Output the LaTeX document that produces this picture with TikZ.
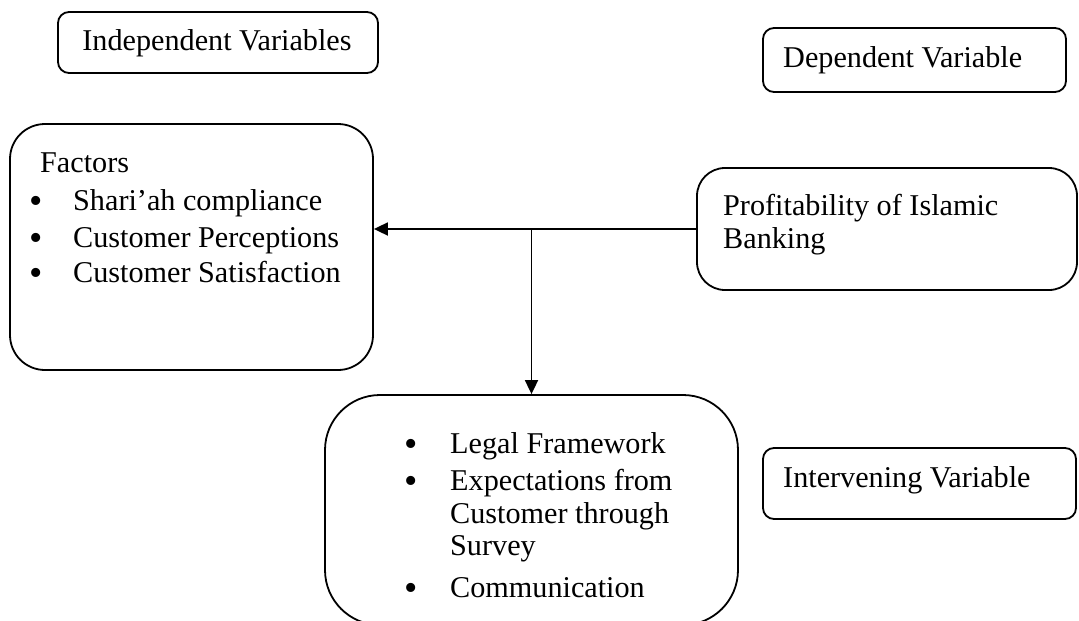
\documentclass[tikz,border=0pt]{standalone}
\usepackage{fontspec}
\setmainfont{Liberation Serif}
\usetikzlibrary{arrows.meta}
\begin{document}
\begin{tikzpicture}[x=1pt,y=-1pt,
  box/.style={draw, line width=1.8pt, inner sep=0pt, rounded corners=#1},
  txt/.style={anchor=base west, inner sep=0pt, font=\fontsize{30.2}{33}\selectfont},
  bul/.style={anchor=base, inner sep=0pt, font=\fontsize{38}{38}\selectfont},
  conn/.style={line width=1.8pt},
  tip/.style={-{Triangle[length=14pt,width=13pt]}}]
\useasboundingbox (0,0) rectangle (1079,621);
\clip (0,0) rectangle (1079,621);
% label boxes
\node[box=11pt, minimum width=320pt, minimum height=61pt] (indep) at (218,42.5) {};
\node[txt, anchor=base] (indept) at (217,50) {Independent Variables};
\node[box=11pt, minimum width=303pt, minimum height=64pt] (dep) at (914.5,60) {};
\node[txt] (dept) at (783,67) {Dependent Variable};
\node[box=11pt, minimum width=313pt, minimum height=71pt] (interv) at (919.5,483.5) {};
\node[txt] (intervt) at (783,487) {Intervening Variable};
% main boxes
\node[box=35pt, minimum width=363pt, minimum height=246pt] (factors) at (191.5,247) {};
\node[txt] (f0) at (40,172) {Factors};
\node[bul] (fb1) at (36,213) {\textbullet};
\node[txt] (f1) at (73,210) {Shari’ah compliance};
\node[bul] (fb2) at (36,250) {\textbullet};
\node[txt] (f2) at (73,247) {Customer Perceptions};
\node[bul] (fb3) at (36,285) {\textbullet};
\node[txt] (f3) at (73,282) {Customer Satisfaction};
\node[box=28pt, minimum width=380pt, minimum height=122pt] (profit) at (887,229) {};
\node[txt] (p1) at (723,215) {Profitability of Islamic};
\node[txt] (p2) at (723,248) {Banking};
\node[box=55pt, minimum width=413pt, minimum height=230pt] (inter) at (531.5,510) {};
\node[bul] (ib1) at (411,456) {\textbullet};
\node[txt] (i1) at (450,453) {Legal Framework};
\node[bul] (ib2) at (411,493) {\textbullet};
\node[txt] (i2) at (450,490) {Expectations from};
\node[txt] (i3) at (450,523) {Customer through};
\node[txt] (i4) at (450,555) {Survey};
\node[bul] (ib3) at (411,600) {\textbullet};
\node[txt] (i5) at (450,597) {Communication};
% connectors
\coordinate (J) at (inter.north |- profit.west);
\draw[conn, tip] (profit.west) -- (factors.east |- profit.west);
\draw[conn, tip] (J) -- (inter.north);
\end{tikzpicture}
\end{document}
